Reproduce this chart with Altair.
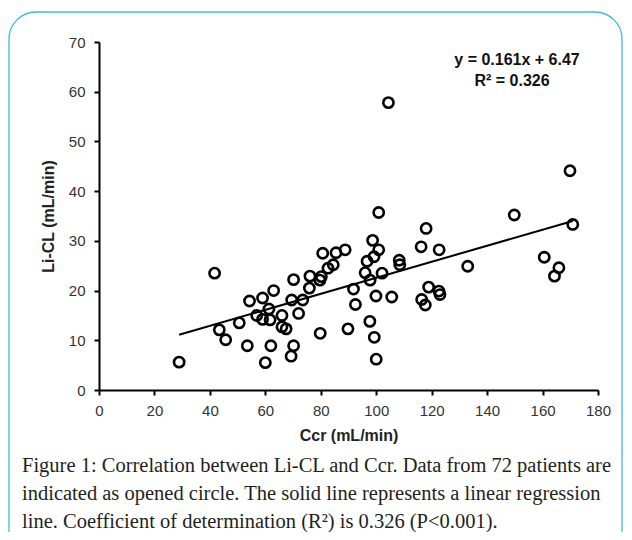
import altair as alt
import pandas as pd

# ---- data ----
ccr = [28.9, 41.7, 43.4, 45.7, 50.6, 53.5, 54.3, 56.9, 59.0, 59.0,
       60.0, 61.3, 61.7, 62.0, 63.0, 66.0, 66.0, 67.5, 69.3, 70.2,
       69.5, 70.2, 72.0, 73.5, 75.9, 76.1, 79.7, 80.2, 80.7, 79.8,
       82.6, 84.5, 85.5, 88.8, 89.8, 91.8, 92.5, 96.0, 96.7, 97.8,
       97.7, 98.7, 99.2, 99.3, 100.0, 99.9, 100.9, 100.9, 102.1, 104.4,
       105.6, 108.3, 108.5, 116.2, 118.0, 116.4, 117.7, 118.9, 122.7, 122.6,
       123.0, 133.0, 149.8, 160.6, 164.3, 165.9, 169.9, 170.9]
licl = [5.6, 23.5, 12.1, 10.1, 13.5, 8.9, 17.9, 15.0, 18.5, 14.2,
        5.5, 16.3, 14.1, 8.9, 20.0, 15.0, 12.7, 12.3, 6.8, 8.9,
        18.1, 22.2, 15.4, 18.1, 20.5, 22.9, 22.1, 22.8, 27.5, 11.4,
        24.5, 25.2, 27.6, 28.2, 12.3, 20.3, 17.2, 23.6, 25.9, 22.1,
        13.8, 30.1, 26.8, 10.6, 6.2, 18.9, 28.2, 35.7, 23.5, 57.8,
        18.7, 26.1, 25.2, 28.8, 32.5, 18.2, 17.1, 20.7, 28.2, 19.9,
        19.2, 24.9, 35.2, 26.7, 22.9, 24.6, 44.1, 33.3]

fit_x = [28.9, 170.9]
fit_y = [11.1, 34.0]

eq_lines = ["y = 0.161x + 6.47", "R\u00b2 = 0.326"]
caption_lines = [
    "Figure 1: Correlation between Li-CL and Ccr. Data from 72 patients are",
    "indicated as opened circle. The solid line represents a linear regression",
    "line. Coefficient of determination (R\u00b2) is 0.326 (P<0.001).",
]
x_ticks = list(range(0, 181, 10))
y_ticks = list(range(0, 71, 5))

pts = pd.DataFrame({"Ccr": ccr, "LiCL": licl})
fit = pd.DataFrame({"Ccr": fit_x, "LiCL": fit_y})
one = alt.Data(values=[{"k": 0}])

xs = alt.Scale(domain=[0, 180], nice=False, zero=False)
ys = alt.Scale(domain=[0, 70], nice=False, zero=False)

x_axis = alt.Axis(values=x_ticks, labelExpr="datum.value % 20 == 0 ? datum.label : ''",
                  title="Ccr (mL/min)", labelPadding=8, titlePadding=9,
                  labelFlush=False, labelOverlap=False)
y_axis = alt.Axis(values=y_ticks, labelExpr="datum.value % 10 == 0 ? datum.label : ''",
                  title="Li-CL (mL/min)", labelPadding=9, titlePadding=12,
                  labelFlush=False, labelOverlap=False)

border = alt.Chart(one).mark_rect(
    cornerRadius=27, fillOpacity=0, stroke="#45b6e3", strokeWidth=1.3
).encode(x=alt.value(-90), x2=alt.value(523), y=alt.value(-30), y2=alt.value(520))

points = alt.Chart(pts).mark_point(
    shape="circle", filled=False, size=105, strokeWidth=2.6, color="black", opacity=1
).encode(
    x=alt.X("Ccr:Q", scale=xs, axis=x_axis),
    y=alt.Y("LiCL:Q", scale=ys, axis=y_axis),
)

line = alt.Chart(fit).mark_line(color="black", strokeWidth=2).encode(
    x=alt.X("Ccr:Q", scale=xs), y=alt.Y("LiCL:Q", scale=ys)
)

eq1 = alt.Chart(one).mark_text(
    font="Liberation Sans", fontSize=16, fontWeight="bold", color="#111", align="center", baseline="middle"
).encode(x=alt.value(418), y=alt.value(18), text=alt.value(eq_lines[0]))
eq2 = alt.Chart(one).mark_text(
    font="Liberation Sans", fontSize=16, fontWeight="bold", color="#111", align="center", baseline="middle"
).encode(x=alt.value(413), y=alt.value(39), text=alt.value(eq_lines[1]))

cap_layers = []
for i, t in enumerate(caption_lines):
    cap_layers.append(
        alt.Chart(one).mark_text(
            font="Liberation Serif", fontSize=20.5, color="#231f20", align="left", baseline="middle"
        ).encode(x=alt.value(-77), y=alt.value(424 + 28 * i), text=alt.value(t))
    )

chart = alt.layer(border, line, points, eq1, eq2, *cap_layers).properties(
    width=499, height=348,
    autosize=alt.AutoSizeParams(type="none"),
    padding={"left": 91, "top": 34, "right": 26, "bottom": 142},
    background="white",
).configure_view(stroke=None).configure_axis(
    grid=False, domainColor="black", domainWidth=2, tickColor="black", tickWidth=2,
    tickSize=5, labelFont="Liberation Sans", labelFontSize=15, labelColor="#333",
    titleFont="Liberation Sans", titleFontSize=16, titleFontWeight="bold", titleColor="#222",
)

chart.save("out.html", embed_options={"renderer": "svg", "actions": False})
